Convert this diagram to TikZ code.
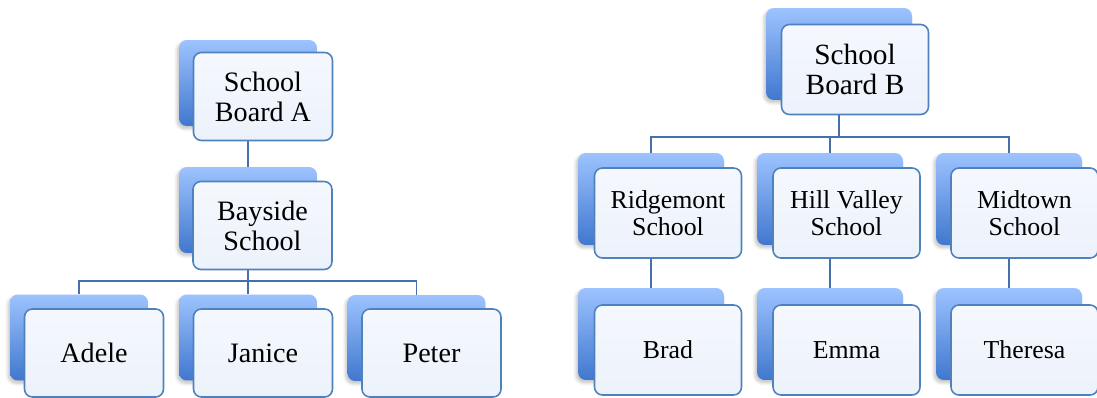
\documentclass[tikz,border=0pt]{standalone}
\usepackage{fontspec}
\setmainfont{Liberation Serif}
\usetikzlibrary{shadows.blur}
\definecolor{backtop}{RGB}{157,195,255}
\definecolor{backbot}{RGB}{64,119,206}
\definecolor{fronttop}{RGB}{245,248,254}
\definecolor{frontbot}{RGB}{236,242,251}
\definecolor{edgeblue}{RGB}{79,129,189}
\definecolor{linkblue}{RGB}{70,112,170}
\tikzset{
  back/.style={rectangle, rounded corners=4.5pt, inner sep=0pt,
    top color=backtop, bottom color=backbot, draw=none,
    blur shadow={shadow xshift=-1pt, shadow yshift=-1.5pt, shadow opacity=25, shadow blur steps=6}},
  front/.style={rectangle, rounded corners=4.5pt, inner sep=0pt, align=center,
    top color=fronttop, bottom color=frontbot,
    draw=edgeblue, line width=0.9pt},
  backA/.style={back, minimum width=2.76cm, minimum height=1.72cm},
  frontA/.style={front, minimum width=2.78cm, minimum height=1.76cm, font=\rmfamily\fontsize{16}{17}\selectfont},
  backB/.style={back, minimum width=2.92cm, minimum height=1.84cm},
  frontB/.style={front, minimum width=2.94cm, minimum height=1.80cm, font=\rmfamily\fontsize{14.7}{15.3}\selectfont},
  link/.style={draw=linkblue, line width=0.8pt}
}
\begin{document}
\begin{tikzpicture}[x=0.02cm, y=-0.02cm]
  \useasboundingbox (0,0) rectangle (1097,398);
  % blue boxes behind
  \node[backA] (sba-b) at (248,83) {};
  \node[backA] (bay-b) at (248,210) {};
  \node[backA] (ade-b) at (79,337.5) {};
  \node[backA] (jan-b) at (248,337.5) {};
  \node[backA] (pet-b) at (416.5,338) {};
  \node[backB] (sbb-b) at (839,54) {};
  \node[backB] (rid-b) at (651,199) {};
  \node[backB] (hil-b) at (830,199) {};
  \node[backB] (mid-b) at (1009,199) {};
  \node[backB] (bra-b) at (651,334) {};
  \node[backB] (emm-b) at (830,334) {};
  \node[backB] (the-b) at (1009,334) {};
  % connectors
  \coordinate (busA) at (0,281);
  \coordinate (busB) at (0,137);
  \draw[link] (sba-b.south) -- (bay-b.north);
  \draw[link] (bay-b.south) -- (bay-b.south |- busA);
  \draw[link] (ade-b.north) |- (pet-b.north |- busA) -- (pet-b.north);
  \draw[link] (jan-b.north) -- (jan-b.north |- busA);
  \draw[link] (sbb-b.south) -- (sbb-b.south |- busB);
  \draw[link] (rid-b.north) |- (mid-b.north |- busB) -- (mid-b.north);
  \draw[link] (hil-b.north) -- (hil-b.north |- busB);
  \draw[link] (rid-b.south) -- (bra-b.north);
  \draw[link] (hil-b.south) -- (emm-b.north);
  \draw[link] (mid-b.south) -- (the-b.north);
  % white boxes in front
  \node[frontA] (sba) at (263,96.5) {School\\Board A};
  \node[frontA] (bay) at (262.5,225.5) {Bayside\\School};
  \node[frontA] (ade) at (94,353) {Adele};
  \node[frontA] (jan) at (263,353) {Janice};
  \node[frontA] (pet) at (431.5,353) {Peter};
  \node[frontB, font=\rmfamily\fontsize{16.7}{17.5}\selectfont] (sbb) at (855,69.5) {School\\Board B};
  \node[frontB] (rid) at (668,213) {Ridgemont\\School};
  \node[frontB] (hil) at (846.5,213) {Hill Valley\\School};
  \node[frontB] (mid) at (1024.5,213) {Midtown\\School};
  \node[frontB] (bra) at (668,350) {Brad};
  \node[frontB] (emm) at (846.5,350) {Emma};
  \node[frontB] (the) at (1024.5,350) {Theresa};
\end{tikzpicture}
\end{document}
